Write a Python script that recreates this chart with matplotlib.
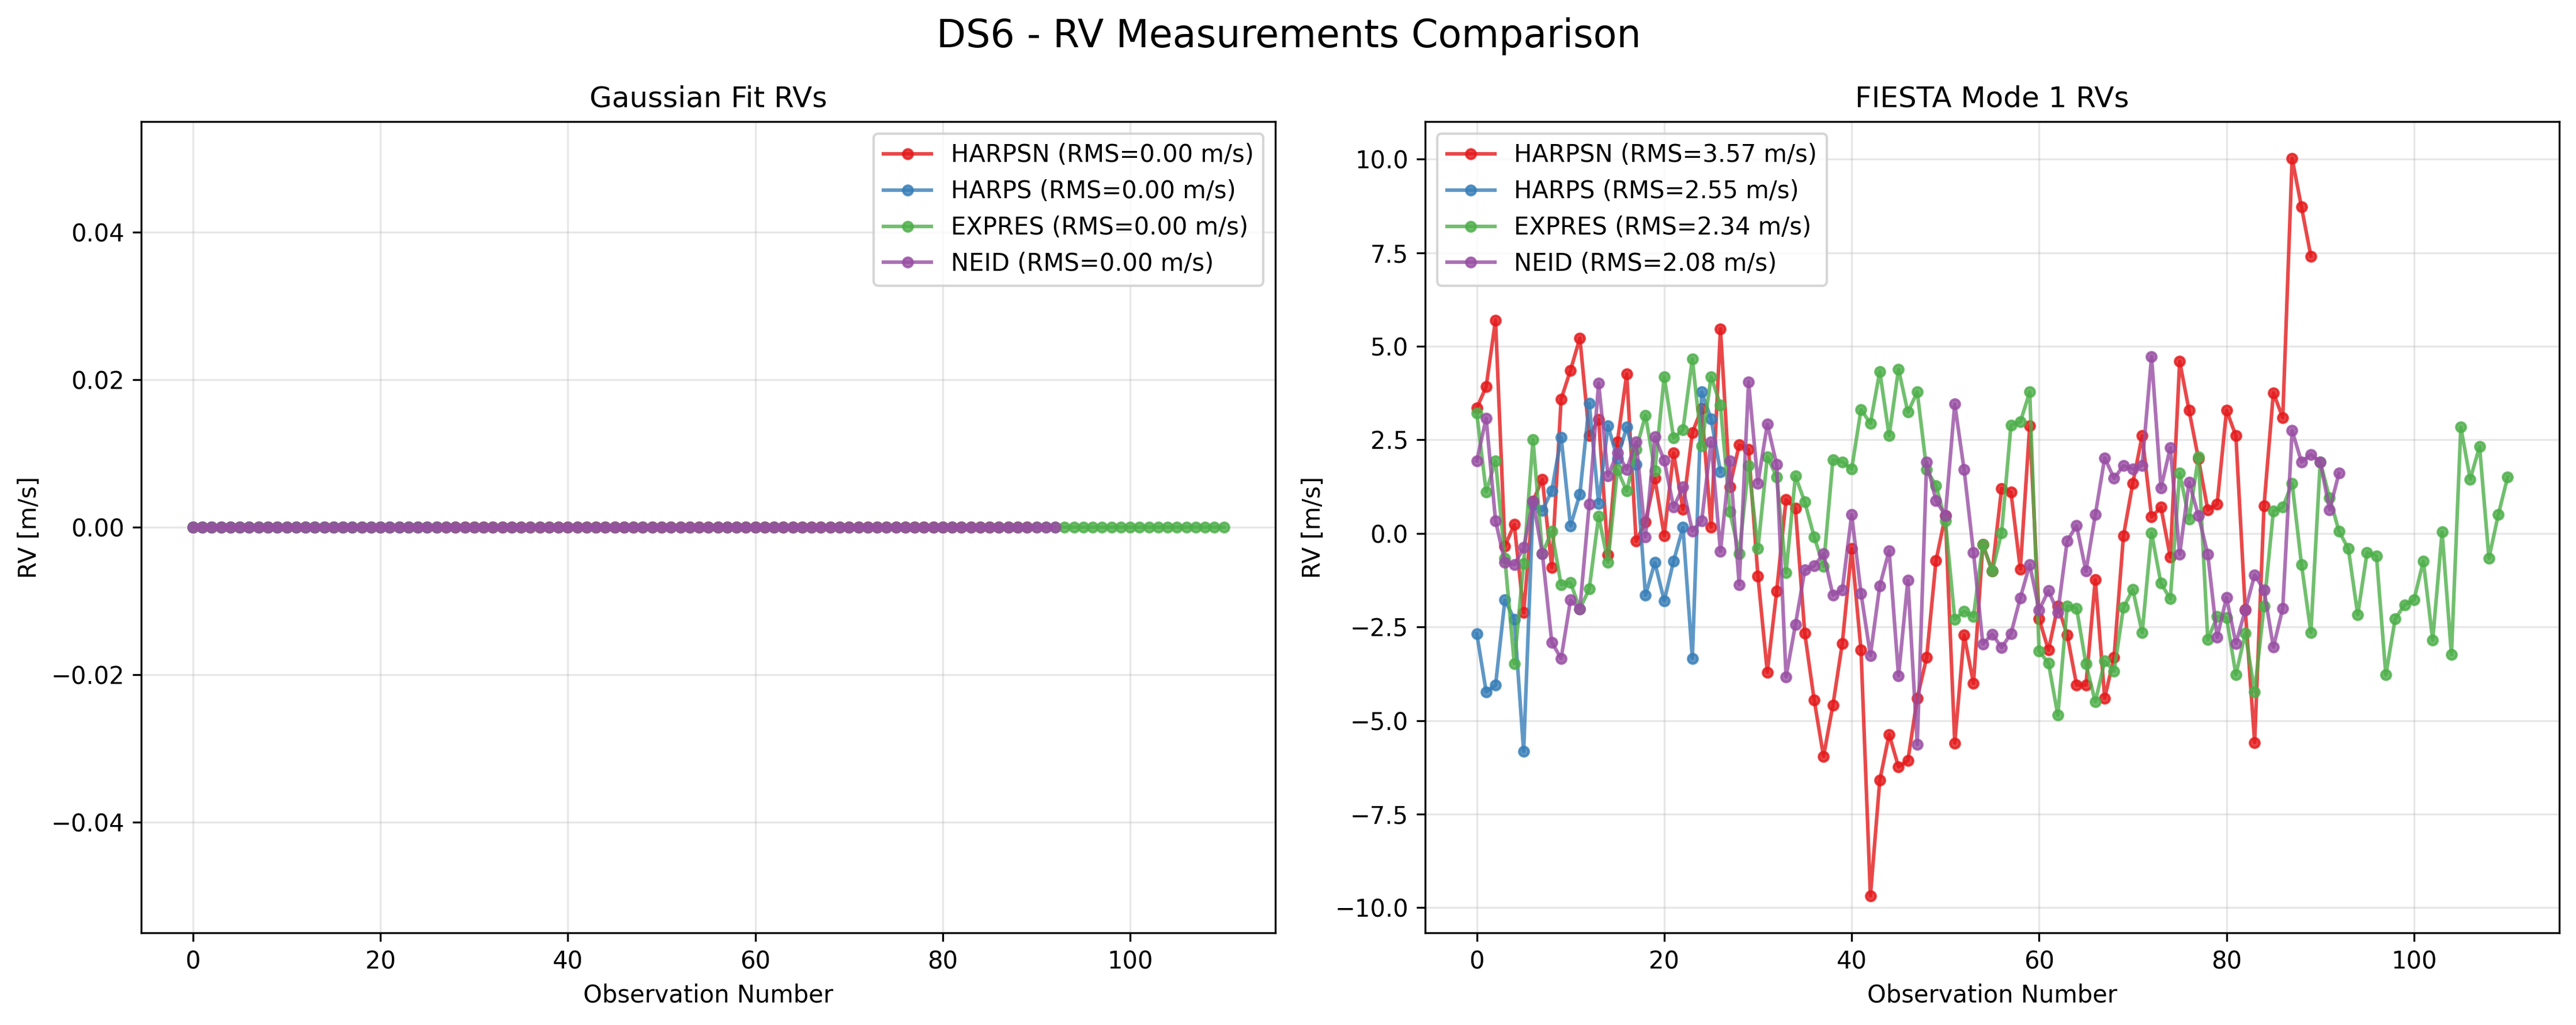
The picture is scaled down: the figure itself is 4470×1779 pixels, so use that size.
import numpy as np
import matplotlib
matplotlib.use('Agg')
import matplotlib.pyplot as plt

# instruments and colours
instruments = ['HARPSN', 'HARPS', 'EXPRES', 'NEID']
colors = ['#e41a1c', '#377eb8', '#4daf4a', '#984ea3']

# FIESTA mode 1 RVs (m/s)
harpsn_rv = [3.35, 3.92, 5.70, -0.34, 0.24, -2.12, 0.86, 1.45, -0.91, 3.59,
             4.36, 5.22, 2.61, 3.04, -0.57, 2.44, 4.26, -0.21, 0.31, 1.47,
             -0.06, 2.15, 0.64, 2.69, 3.34, 0.17, 5.47, 1.24, 2.37, 2.24,
             -1.14, -3.71, -1.55, 0.91, 0.67, -2.67, -4.45, -5.96, -4.59, -2.94,
             -0.40, -3.12, -9.69, -6.60, -5.37, -6.24, -6.07, -4.40, -3.32, -0.73,
             0.48, -5.60, -2.71, -4.01, -0.30, -1.01, 1.20, 1.10, -0.95, 2.88,
             -2.28, -3.12, -1.94, -2.71, -4.05, -4.05, -1.23, -4.40, -3.31, -0.07,
             1.34, 2.61, 0.44, 0.70, -0.63, 4.60, 3.29, 2.00, 0.63, 0.78,
             3.29, 2.61, -2.04, -5.59, 0.73, 3.76, 3.09, 10.02, 8.72, 7.41]
harps_rv = [-2.68, -4.23, -4.06, -1.78, -2.29, -5.83, 0.76, 0.61, 1.14, 2.57,
            0.20, 1.05, 3.48, 0.80, 2.88, 2.00, 2.84, 1.84, -1.65, -0.78,
            -1.80, -0.74, 0.16, -3.34, 3.78, 3.06, 1.65]
expres_rv = [3.21, 1.11, 1.94, -0.67, -3.48, -0.80, 2.51, -0.54, 0.06, -1.37,
             -1.31, -2.02, -1.48, 0.46, -0.77, 1.70, 1.13, 2.24, 3.16, 1.68,
             4.19, 2.55, 2.77, 4.66, 2.34, 4.19, 3.43, 0.58, -0.54, 1.82,
             -0.40, 2.05, 1.51, -1.05, 1.53, 0.84, -0.09, -0.88, 1.97, 1.91,
             1.72, 3.31, 2.94, 4.33, 2.61, 4.39, 3.24, 3.78, 1.70, 1.28,
             0.34, -2.29, -2.08, -2.22, -0.29, -1.01, 0.02, 2.89, 2.98, 3.78,
             -3.15, -3.46, -4.86, -1.94, -2.00, -3.49, -4.50, -3.41, -3.68, -1.98,
             -1.50, -2.65, 0.01, -1.33, -1.75, 1.62, 0.38, 2.04, -2.84, -2.22,
             -2.25, -3.78, -2.67, -4.23, -1.95, 0.60, 0.70, 1.34, -0.83, -2.65,
             1.91, 0.95, 0.06, -0.41, -2.17, -0.51, -0.60, -3.78, -2.28, -1.91,
             -1.78, -0.74, -2.85, 0.04, -3.24, 2.84, 1.45, 2.32, -0.66, 0.50,
             1.51]
neid_rv = [1.94, 3.08, 0.34, -0.77, -0.84, -0.38, 0.86, -0.54, -2.91, -3.34,
           -1.78, -2.02, 0.78, 4.02, 1.54, 2.15, 1.71, 2.45, -0.09, 2.58,
           1.95, 0.70, 1.24, 0.06, 0.34, 2.45, -0.48, 1.94, -1.37, 4.05,
           1.34, 2.92, 1.84, -3.83, -2.44, -0.98, -0.87, -0.54, -1.65, -1.51,
           0.50, -1.60, -3.26, -1.40, -0.46, -3.81, -1.25, -5.64, 1.90, 0.88,
           0.48, 3.46, 1.70, -0.51, -2.96, -2.69, -3.05, -2.68, -1.72, -0.83,
           -2.05, -1.53, -2.11, -0.20, 0.21, -1.01, 0.50, 2.02, 1.47, 1.81,
           1.72, 1.82, 4.73, 1.21, 2.29, -0.56, 1.37, 0.48, -0.56, -2.78,
           -1.71, -2.94, -2.05, -1.11, -1.51, -3.04, -2.00, 2.75, 1.91, 2.11,
           1.91, 0.63, 1.61]

fiesta_rv = [harpsn_rv, harps_rv, expres_rv, neid_rv]
fiesta_rms = ['3.57', '2.55', '2.34', '2.08']
gauss_rms = ['0.00', '0.00', '0.00', '0.00']

fig, axes = plt.subplots(1, 2, figsize=(15, 6))
fig.suptitle('DS6 - RV Measurements Comparison', fontsize=16)

# left: gaussian fit RVs are all zero
ax = axes[0]
for name, rv, rms, c in zip(instruments, fiesta_rv, gauss_rms, colors):
    n = len(rv)
    ax.plot(np.arange(n), np.zeros(n), 'o-', color=c, alpha=0.8, markersize=4,
            label=f'{name} (RMS={rms} m/s)')
ax.set_title('Gaussian Fit RVs')
ax.set_xlabel('Observation Number')
ax.set_ylabel('RV [m/s]')
ax.legend(loc='upper right')
ax.grid(True, alpha=0.3)

# right: FIESTA mode 1
ax = axes[1]
for name, rv, rms, c in zip(instruments, fiesta_rv, fiesta_rms, colors):
    ax.plot(np.arange(len(rv)), rv, 'o-', color=c, alpha=0.8, markersize=4,
            label=f'{name} (RMS={rms} m/s)')
ax.set_title('FIESTA Mode 1 RVs')
ax.set_xlabel('Observation Number')
ax.set_ylabel('RV [m/s]')
ax.legend(loc='upper left')
ax.grid(True, alpha=0.3)

plt.tight_layout()
plt.savefig('out.png', dpi=300, bbox_inches='tight')
